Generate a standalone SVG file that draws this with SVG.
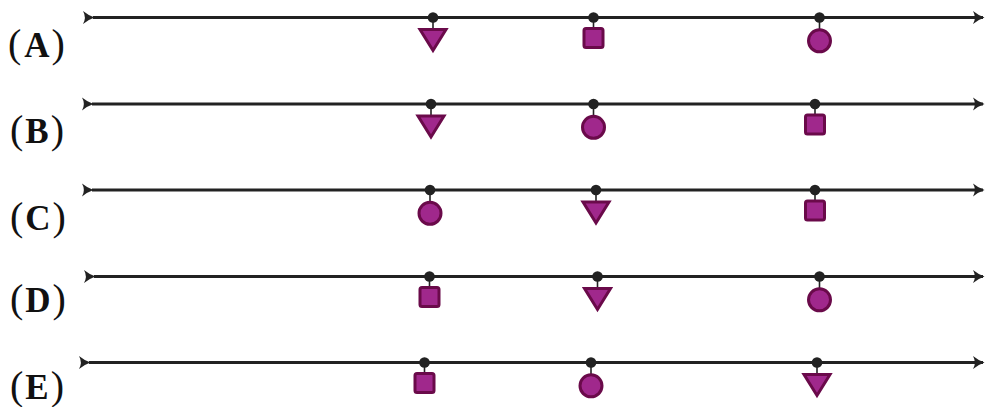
<svg xmlns="http://www.w3.org/2000/svg" width="986" height="407" viewBox="0 0 986 407">
<defs>
<style>
.ax{stroke:#222;stroke-width:2.8;fill:none}
.stem{stroke:#222;stroke-width:1.6}
.dot{fill:#222}
.mk{fill:#a0288c;stroke:#6a0a4a;stroke-width:3;stroke-linejoin:miter}
.lbl{font-family:"Liberation Serif","Times New Roman",serif;font-size:40px;font-weight:normal;fill:#111}
.lbl tspan.b{font-weight:bold;font-size:35px}
</style>
<marker id="arr" markerUnits="userSpaceOnUse" markerWidth="13" markerHeight="14" viewBox="-11 -7 13 14" refX="0" refY="0" orient="auto" overflow="visible">
<path d="M-10,-6.5 Q-4.5,-2 1.5,0 Q-4.5,2 -10,6.5 Q-6.3,0 -10,-6.5Z" fill="#222"/>
</marker>
<g id="tri"><path class="mk" d="M-13,12 L13,12 L0,33Z"/></g>
<g id="sq"><rect class="mk" x="-9.5" y="11" width="19" height="19" rx="2"/></g>
<g id="circ"><circle class="mk" cx="0" cy="23.3" r="11"/></g>
</defs>

<g id="connectors">
<path class="ax" d="M93,17.5H983" marker-start="url(#arr)" marker-end="url(#arr)"/>
<path class="ax" d="M92,104H983" marker-start="url(#arr)" marker-end="url(#arr)"/>
<path class="ax" d="M92,190H983" marker-start="url(#arr)" marker-end="url(#arr)"/>
<path class="ax" d="M94,276.5H983" marker-start="url(#arr)" marker-end="url(#arr)"/>
<path class="ax" d="M89,362.5H983" marker-start="url(#arr)" marker-end="url(#arr)"/>
</g>

<g id="rowA">
<text class="lbl" x="8" y="57">(<tspan class="b" dx="3">A</tspan><tspan dx="2">)</tspan></text>
<g id="A-tri" transform="translate(433,17.5)"><line class="stem" x1="0" y1="0" x2="0" y2="12"/><use href="#tri"/><circle class="dot" r="5.3"/></g>
<g id="A-sq" transform="translate(593.5,17.5)"><line class="stem" x1="0" y1="0" x2="0" y2="11"/><use href="#sq"/><circle class="dot" r="5.3"/></g>
<g id="A-circ" transform="translate(819.5,17.5)"><line class="stem" x1="0" y1="0" x2="0" y2="12"/><use href="#circ"/><circle class="dot" r="5.3"/></g>
</g>

<g id="rowB">
<text class="lbl" x="10" y="142.5">(<tspan class="b" dx="2">B</tspan><tspan dx="2">)</tspan></text>
<g id="B-tri" transform="translate(431,104)"><line class="stem" x1="0" y1="0" x2="0" y2="12"/><use href="#tri"/><circle class="dot" r="5.3"/></g>
<g id="B-circ" transform="translate(593.5,104)"><line class="stem" x1="0" y1="0" x2="0" y2="12"/><use href="#circ"/><circle class="dot" r="5.3"/></g>
<g id="B-sq" transform="translate(815,104)"><line class="stem" x1="0" y1="0" x2="0" y2="11"/><use href="#sq"/><circle class="dot" r="5.3"/></g>
</g>

<g id="rowC">
<text class="lbl" x="10" y="229.5">(<tspan class="b" dx="2">C</tspan><tspan dx="2">)</tspan></text>
<g id="C-circ" transform="translate(430,190)"><line class="stem" x1="0" y1="0" x2="0" y2="12"/><use href="#circ"/><circle class="dot" r="5.3"/></g>
<g id="C-tri" transform="translate(596,190)"><line class="stem" x1="0" y1="0" x2="0" y2="12"/><use href="#tri"/><circle class="dot" r="5.3"/></g>
<g id="C-sq" transform="translate(815,190)"><line class="stem" x1="0" y1="0" x2="0" y2="11"/><use href="#sq"/><circle class="dot" r="5.3"/></g>
</g>

<g id="rowD">
<text class="lbl" x="10" y="312">(<tspan class="b" dx="2">D</tspan><tspan dx="2">)</tspan></text>
<g id="D-sq" transform="translate(429.5,276.5)"><line class="stem" x1="0" y1="0" x2="0" y2="11"/><use href="#sq"/><circle class="dot" r="5.3"/></g>
<g id="D-tri" transform="translate(597.5,276.5)"><line class="stem" x1="0" y1="0" x2="0" y2="12"/><use href="#tri"/><circle class="dot" r="5.3"/></g>
<g id="D-circ" transform="translate(819.5,276.5)"><line class="stem" x1="0" y1="0" x2="0" y2="12"/><use href="#circ"/><circle class="dot" r="5.3"/></g>
</g>

<g id="rowE">
<text class="lbl" x="10" y="399">(<tspan class="b" dx="2">E</tspan><tspan dx="2">)</tspan></text>
<g id="E-sq" transform="translate(424.5,362.5)"><line class="stem" x1="0" y1="0" x2="0" y2="11"/><use href="#sq"/><circle class="dot" r="5.3"/></g>
<g id="E-circ" transform="translate(591,362.5)"><line class="stem" x1="0" y1="0" x2="0" y2="12"/><use href="#circ"/><circle class="dot" r="5.3"/></g>
<g id="E-tri" transform="translate(817,362.5)"><line class="stem" x1="0" y1="0" x2="0" y2="12"/><use href="#tri"/><circle class="dot" r="5.3"/></g>
</g>
</svg>
